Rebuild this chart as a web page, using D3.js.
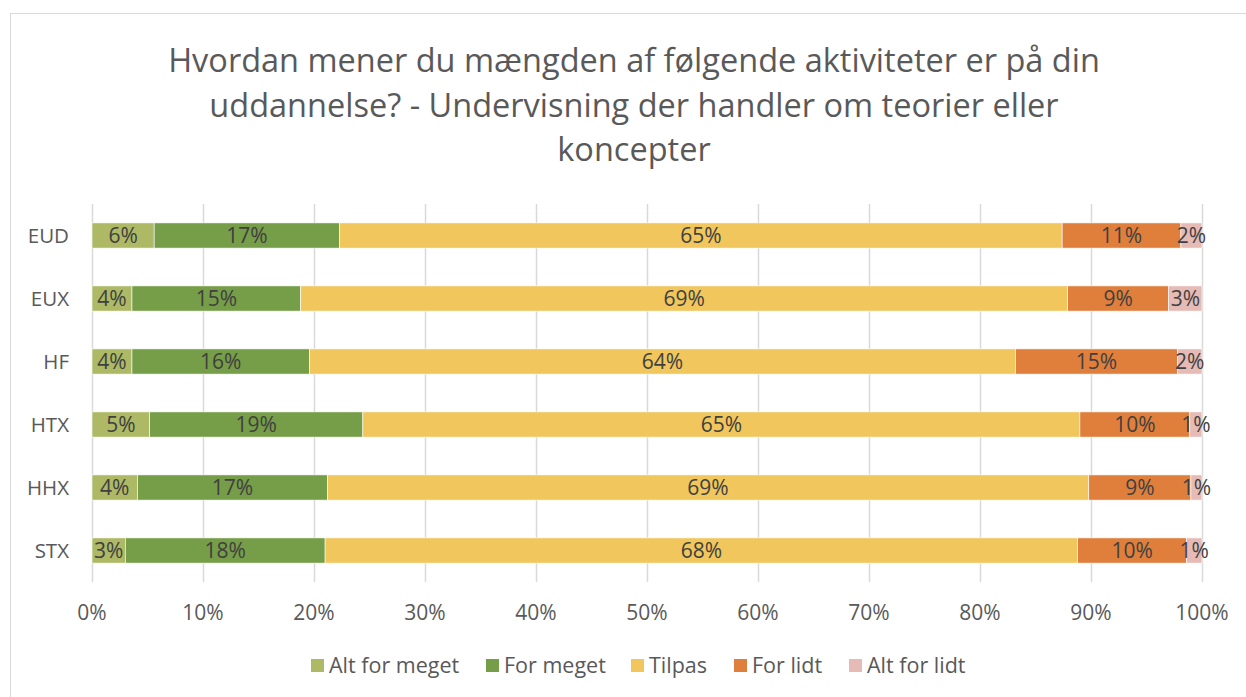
<!DOCTYPE html>
<html>
<head>
<meta charset="utf-8">
<script src="https://cdn.jsdelivr.net/npm/d3@7"></script>
<style>
  body { margin: 0; background: #fff; }
  svg text { font-family: "Open Sans", "Noto Sans", sans-serif; }
</style>
</head>
<body>
<svg id="chart" width="1246" height="697"></svg>
<script>
// categories (top to bottom) and series, values in percent
var categories = ["EUD", "EUX", "HF", "HTX", "HHX", "STX"];
var seriesNames = ["Alt for meget", "For meget", "Tilpas", "For lidt", "Alt for lidt"];
var altForMeget = [5.6, 3.6, 3.6, 5.2, 4.1, 3.0];
var forMeget    = [16.7, 15.2, 16.0, 19.2, 17.1, 18.0];
var tilpas      = [65.1, 69.1, 63.6, 64.6, 68.6, 67.8];
var forLidt     = [10.7, 9.1, 14.6, 9.9, 9.2, 9.8];
var altForLidt  = [1.9, 3.0, 2.2, 1.1, 1.0, 1.4];
var xTicks = [0, 10, 20, 30, 40, 50, 60, 70, 80, 90, 100];
var titleLines = [
  "Hvordan mener du mængden af følgende aktiviteter er på din",
  "uddannelse? - Undervisning der handler om teorier eller",
  "koncepter"
];

var colors = ["#adb965", "#769d48", "#f1c65c", "#e07f3b", "#e6bbb5"];
var textCol = "#595959";

var rows = categories.map(function(c, i) {
  return {cat: c, values: [altForMeget[i], forMeget[i], tilpas[i], forLidt[i], altForLidt[i]]};
});

var svg = d3.select("#chart");

// chart frame
svg.append("rect")
  .attr("x", 10.5).attr("y", 13.5)
  .attr("width", 1245).attr("height", 700)
  .attr("fill", "#fff").attr("stroke", "#d9d9d9");

// title
svg.append("g").selectAll("text")
  .data(titleLines)
  .join("text")
  .attr("x", 634)
  .attr("y", function(d, i) { return 72 + i * 44.5; })
  .attr("text-anchor", "middle")
  .attr("font-size", 32.5)
  .attr("fill", textCol)
  .text(function(d) { return d; });

var x = d3.scaleLinear().domain([0, 100]).range([92, 1202]);
var y = d3.scaleBand().domain(categories).range([204, 582])
  .paddingInner(0.6).paddingOuter(0.3);

// gridlines
svg.append("g").selectAll("line")
  .data(xTicks)
  .join("line")
  .attr("x1", function(d) { return Math.round(x(d)) + 0.5; })
  .attr("x2", function(d) { return Math.round(x(d)) + 0.5; })
  .attr("y1", 204).attr("y2", 582)
  .attr("stroke", "#d9d9d9").attr("stroke-width", 1.5);

// x axis labels
svg.append("g").selectAll("text")
  .data(xTicks)
  .join("text")
  .attr("x", function(d) { return x(d); })
  .attr("y", 620)
  .attr("text-anchor", "middle")
  .attr("font-size", 21)
  .attr("fill", textCol)
  .text(function(d) { return d + "%"; });

// category labels
svg.append("g").selectAll("text")
  .data(categories)
  .join("text")
  .attr("x", 69)
  .attr("y", function(d) { return y(d) + y.bandwidth() / 2 + 7; })
  .attr("text-anchor", "end")
  .attr("font-size", 20.5)
  .attr("fill", textCol)
  .text(function(d) { return d; });

// stacked segments
var segs = [];
rows.forEach(function(r) {
  var acc = 0;
  r.values.forEach(function(v, k) {
    segs.push({cat: r.cat, k: k, v: v, x0: acc, x1: acc + v});
    acc += v;
  });
});

svg.append("g").selectAll("rect")
  .data(segs)
  .join("rect")
  .attr("x", function(d) { return x(d.x0); })
  .attr("width", function(d) { return x(d.x1) - x(d.x0); })
  .attr("y", function(d) { return y(d.cat); })
  .attr("height", y.bandwidth())
  .attr("fill", function(d) { return colors[d.k]; })
  .attr("stroke", "#fff").attr("stroke-width", 0.6);

svg.append("g").selectAll("text")
  .data(segs)
  .join("text")
  .attr("x", function(d) { return (x(d.x0) + x(d.x1)) / 2; })
  .attr("y", function(d) { return y(d.cat) + y.bandwidth() / 2 + 7.5; })
  .attr("text-anchor", "middle")
  .attr("font-size", 21)
  .attr("fill", "#404040")
  .text(function(d) { return Math.round(d.v) + "%"; });

// legend
var legendX = [311, 486, 631, 734, 849];
var lg = svg.append("g").selectAll("g")
  .data(seriesNames)
  .join("g")
  .attr("transform", function(d, i) { return "translate(" + legendX[i] + ",659)"; });
lg.append("rect")
  .attr("width", 13).attr("height", 13)
  .attr("fill", function(d, i) { return colors[i]; });
lg.append("text")
  .attr("x", 18).attr("y", 14)
  .attr("font-size", 21.5)
  .attr("fill", textCol)
  .text(function(d) { return d; });
</script>
</body>
</html>
